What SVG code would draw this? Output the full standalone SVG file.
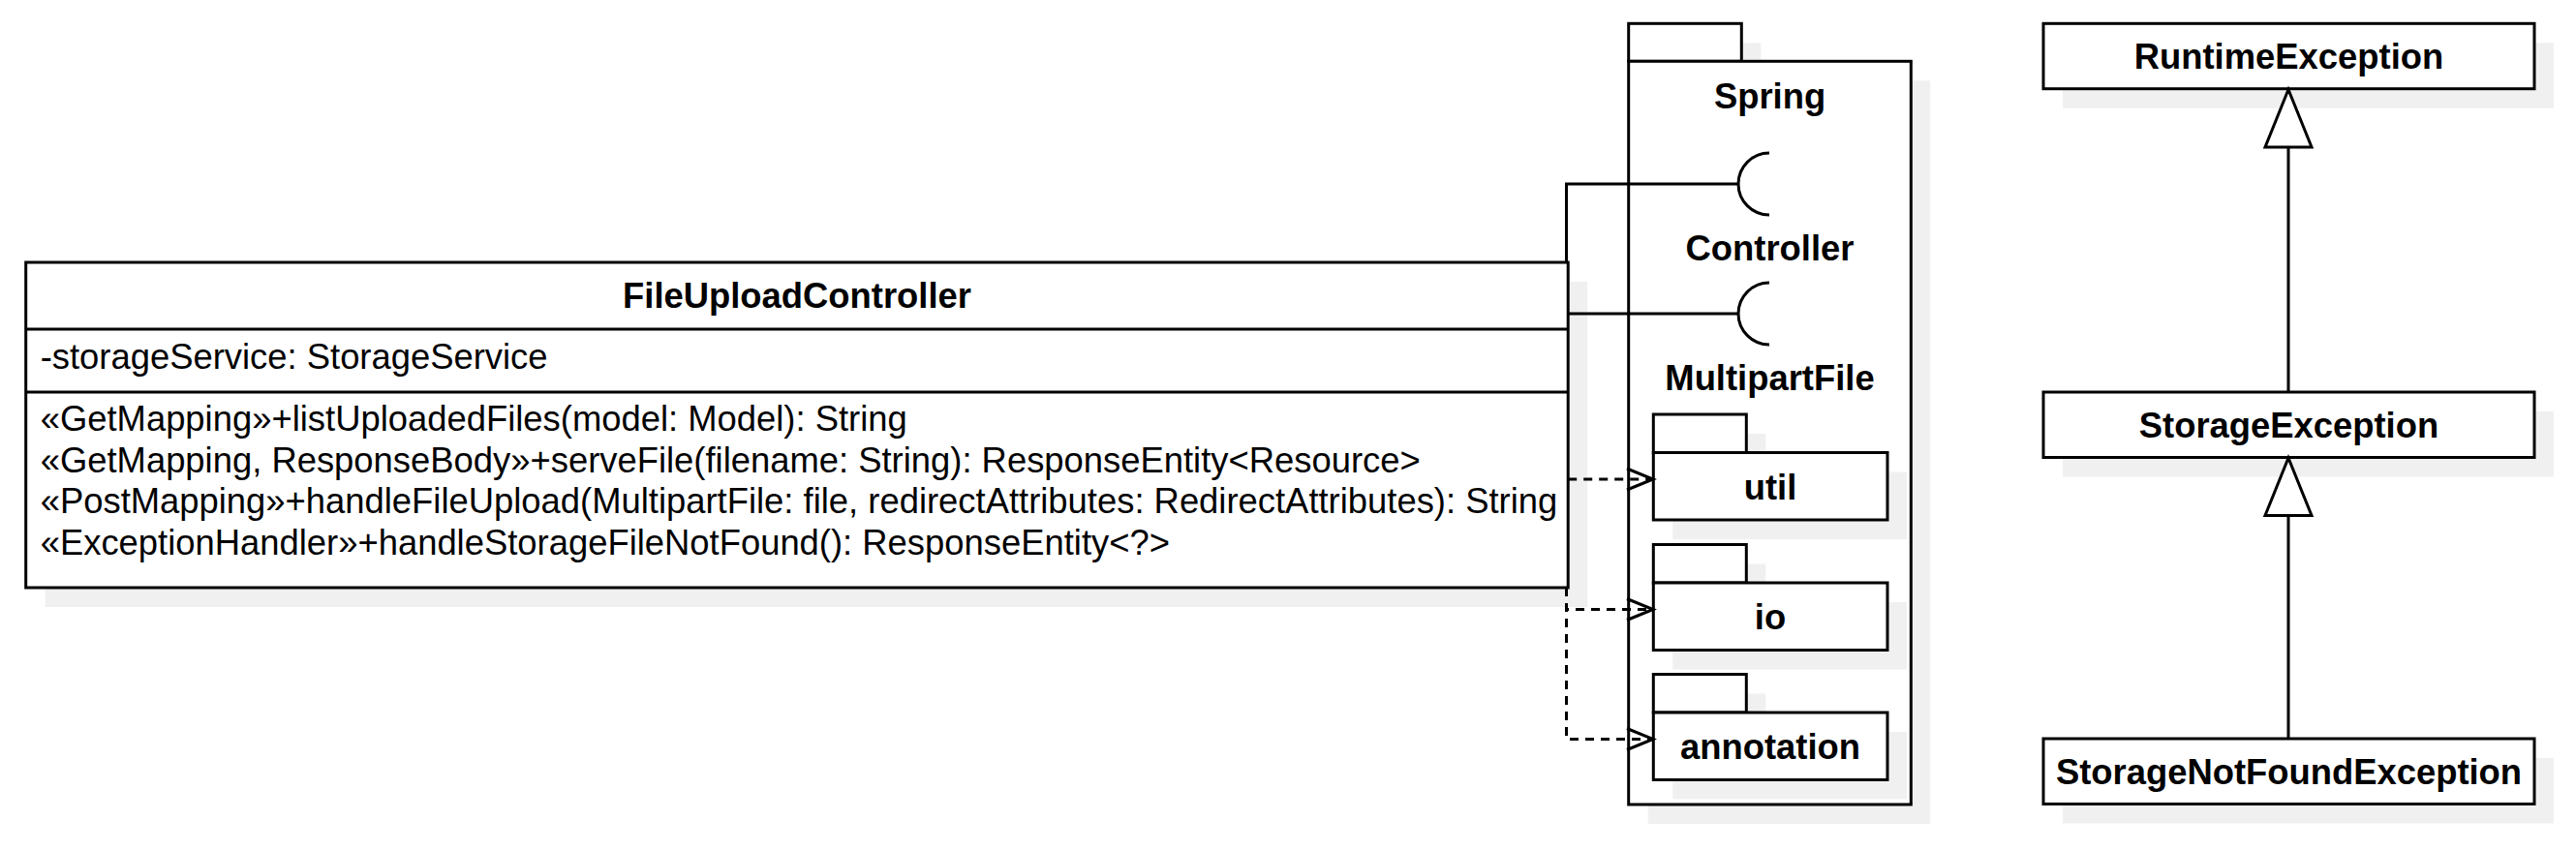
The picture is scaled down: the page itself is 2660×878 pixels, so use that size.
<svg xmlns="http://www.w3.org/2000/svg" width="2660" height="878" viewBox="0 0 2660 878">
<defs>
<style>
.sh{fill:#f0f0f0;stroke:none}
.bx{fill:#ffffff;stroke:#000000;stroke-width:3}
.ln{fill:none;stroke:#000000;stroke-width:3}
.dl{fill:none;stroke:#000000;stroke-width:3;stroke-dasharray:9 7}
.tri{fill:#ffffff;stroke:#000000;stroke-width:3}
text{font-family:"Liberation Sans",Arial,Helvetica,sans-serif;font-size:36.4px;fill:#000000}
.b{font-weight:bold;text-anchor:middle}
</style>
</defs>
<rect width="2660" height="878" fill="#ffffff"/>

<g id="spring">
<rect class="sh" x="1701.7" y="44.3" width="116.6" height="39"/>
<rect class="sh" x="1701.7" y="83.3" width="291.6" height="767.7"/>
<rect class="bx" x="1681.7" y="24.3" width="116.6" height="39"/>
<rect class="bx" x="1681.7" y="63.3" width="291.6" height="767.7"/>
<text class="b" x="1827.5" y="112">Spring</text>
<text class="b" x="1827.5" y="269">Controller</text>
<text class="b" x="1827.5" y="403">MultipartFile</text>
</g>

<g id="util">
<rect class="sh" x="1727.3" y="448" width="96" height="39.5"/>
<rect class="sh" x="1727.3" y="487.5" width="241.7" height="69.5"/>
<rect class="bx" x="1707.3" y="428" width="96" height="39.5"/>
<rect class="bx" x="1707.3" y="467.5" width="241.7" height="69.5"/>
<text class="b" x="1828" y="515.5">util</text>
</g>

<g id="io">
<rect class="sh" x="1727.3" y="582.5" width="96" height="39.5"/>
<rect class="sh" x="1727.3" y="622" width="241.7" height="69.5"/>
<rect class="bx" x="1707.3" y="562.5" width="96" height="39.5"/>
<rect class="bx" x="1707.3" y="602" width="241.7" height="69.5"/>
<text class="b" x="1828" y="650">io</text>
</g>

<g id="annotation">
<rect class="sh" x="1727.3" y="716.5" width="96" height="39.5"/>
<rect class="sh" x="1727.3" y="756" width="241.7" height="69.5"/>
<rect class="bx" x="1707.3" y="696.5" width="96" height="39.5"/>
<rect class="bx" x="1707.3" y="736" width="241.7" height="69.5"/>
<text class="b" x="1828" y="784.3">annotation</text>
</g>

<g id="FileUploadController">
<rect class="sh" x="46.7" y="291" width="1592.5" height="336"/>
<rect class="bx" x="26.7" y="271" width="1592.5" height="336"/>
<line class="ln" x1="26.7" y1="340" x2="1619.2" y2="340"/>
<line class="ln" x1="26.7" y1="405" x2="1619.2" y2="405"/>
<text class="b" x="823" y="318">FileUploadController</text>
<text x="41.7" y="381">-storageService: StorageService</text>
<text x="41.7" y="445">«GetMapping»+listUploadedFiles(model: Model): String</text>
<text x="41.7" y="487.5">«GetMapping, ResponseBody»+serveFile(filename: String): ResponseEntity&lt;Resource&gt;</text>
<text x="41.7" y="530">«PostMapping»+handleFileUpload(MultipartFile: file, redirectAttributes: RedirectAttributes): String</text>
<text x="41.7" y="572.5">«ExceptionHandler»+handleStorageFileNotFound(): ResponseEntity&lt;?&gt;</text>
</g>

<g id="RuntimeException">
<rect class="sh" x="2130" y="44.3" width="507" height="67.4"/>
<rect class="bx" x="2110" y="24.3" width="507" height="67.4"/>
<text class="b" x="2363.5" y="71">RuntimeException</text>
</g>

<g id="StorageException">
<rect class="sh" x="2130" y="425" width="507" height="67.5"/>
<rect class="bx" x="2110" y="405" width="507" height="67.5"/>
<text class="b" x="2363.5" y="452">StorageException</text>
</g>

<g id="StorageNotFoundException">
<rect class="sh" x="2130" y="783" width="507" height="67.5"/>
<rect class="bx" x="2110" y="763" width="507" height="67.5"/>
<text class="b" x="2363.5" y="810">StorageNotFoundException</text>
</g>

<g id="connectors">
<polyline class="ln" points="1617.5,271 1617.5,190 1795,190"/>
<path class="ln" d="M1827,158 A32,32 0 0 0 1827,222"/>
<line class="ln" x1="1619.2" y1="324" x2="1795" y2="324"/>
<path class="ln" d="M1827,292 A32,32 0 0 0 1827,356"/>

<line class="dl" x1="1619.2" y1="495" x2="1705" y2="495"/>
<polyline class="ln" points="1680,484 1707,495 1680,506"/>
<polyline class="dl" points="1617.5,607 1617.5,629.5 1705,629.5"/>
<polyline class="ln" points="1680,618.5 1707,629.5 1680,640.5"/>
<polyline class="dl" points="1617.5,607 1617.5,763.5 1705,763.5"/>
<polyline class="ln" points="1680,752.5 1707,763.5 1680,774.5"/>

<line class="ln" x1="2363" y1="405" x2="2363" y2="152"/>
<polygon class="tri" points="2363,92.5 2339,152 2387,152"/>
<line class="ln" x1="2363" y1="763" x2="2363" y2="532.5"/>
<polygon class="tri" points="2363,473 2339,532.5 2387,532.5"/>
</g>
</svg>
